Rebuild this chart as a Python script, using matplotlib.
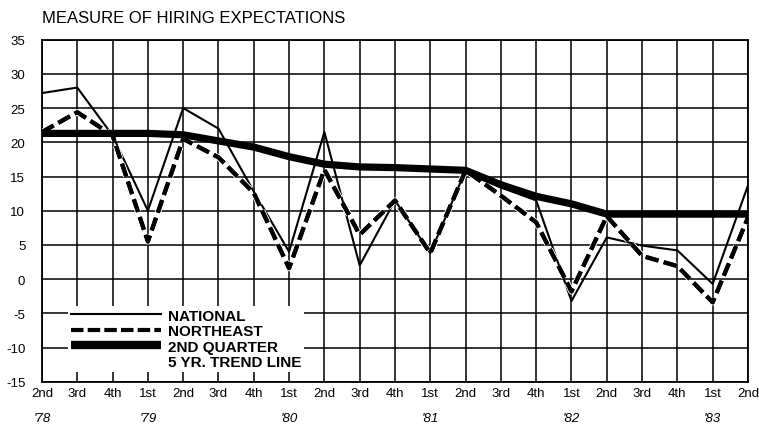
import matplotlib.pyplot as plt
import matplotlib.patheffects as pe
from matplotlib.lines import Line2D

plt.rcParams['font.family'] = ['Liberation Sans', 'DejaVu Sans']

# quarters 2nd '78 .. 2nd '83
quarters = ['2nd', '3rd', '4th', '1st', '2nd', '3rd', '4th', '1st', '2nd', '3rd', '4th',
            '1st', '2nd', '3rd', '4th', '1st', '2nd', '3rd', '4th', '1st', '2nd']
years = ["'78", "'79", "'80", "'81", "'82", "'83"]
year_pos = [0, 3, 7, 11, 15, 19]

national = [27.2, 28, 21, 10, 25, 22, 12.8, 4, 21.5, 2, 11.5, 3.8, 15.9, 13.4, 11.5,
            -3.2, 6.1, 4.9, 4.2, -0.7, 13.7]
northeast = [21.5, 24.4, 21, 5.5, 20.5, 17.8, 12.6, 1.6, 16, 6.5, 11.5, 3.8, 15.9, 12.2, 8.3,
             -1.8, 9.2, 3.4, 1.9, -3.4, 9]
trend = [21.3, 21.3, 21.3, 21.3, 21.1, 20.2, 19.3, 17.9, 16.8, 16.4, 16.3, 16.1, 15.9,
         13.8, 12.1, 11, 9.5, 9.5, 9.5, 9.5, 9.5]

x = list(range(len(quarters)))

fig = plt.figure(figsize=(7.59, 4.31), dpi=100)
ax = fig.add_axes([0.0553, 0.112, 0.9302, 0.7936])

ax.plot(x, national, color='black', lw=1.5, zorder=3)
ax.plot(x, northeast, color='black', lw=3, dashes=(3.2, 1.3), zorder=4,
        path_effects=[pe.withStroke(linewidth=4.5, foreground='white'), pe.Normal()])
ax.plot(x, trend, color='black', lw=5.2, solid_capstyle='butt', zorder=5)

ax.set_xlim(0, len(quarters) - 1)
ax.set_ylim(-15, 35)
ax.set_yticks(range(-15, 36, 5))
ax.set_yticklabels([str(v) for v in range(-15, 36, 5)])
ax.set_xticks(x)
ax.set_xticklabels(quarters)
ax.grid(True, color='black', lw=1.1)
ax.set_axisbelow(True)
ax.tick_params(length=0, labelsize=9.5, colors='black')
ax.tick_params(axis='y', pad=12)
ax.tick_params(axis='x', pad=4)
for s in ax.spines.values():
    s.set_linewidth(1.3)

for p, yr in zip(year_pos, years):
    ax.text(p, -0.105, yr, transform=ax.get_xaxis_transform(), ha='center', va='center',
            fontsize=9.5, style='italic')

fig.text(0.0553, 0.958, 'MEASURE OF HIRING EXPECTATIONS', ha='left', va='center',
         fontsize=12)

handles = [Line2D([], [], color='black', lw=1.5),
           Line2D([], [], color='black', lw=3, dashes=(3.0, 1.0)),
           Line2D([], [], color='black', lw=6, solid_capstyle='butt'),
           Line2D([], [], color='none')]
labels = ['NATIONAL', 'NORTHEAST', '2ND QUARTER', '5 YR. TREND LINE']
leg = ax.legend(handles, labels, loc='lower left', bbox_to_anchor=(0.026, 0.005),
                handlelength=5.9, handletextpad=0.45, labelspacing=0.1, borderpad=0.2,
                frameon=True, fancybox=False, framealpha=1, edgecolor='none',
                facecolor='white', prop={'weight': 'bold', 'size': 11})
leg.set_zorder(6)

fig.savefig('out.png', dpi=100)
